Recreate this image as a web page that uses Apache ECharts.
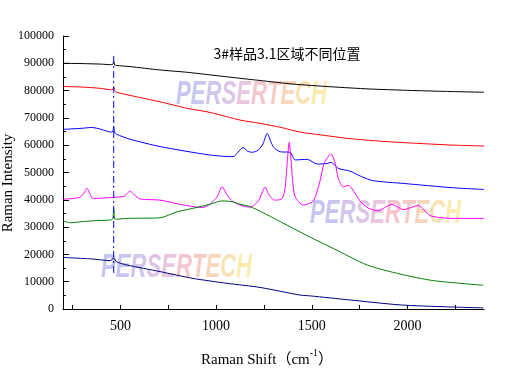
<!DOCTYPE html>
<html>
<head>
<meta charset="utf-8">
<script src="https://cdn.jsdelivr.net/npm/echarts@6/dist/echarts.min.js"></script>
<style>html,body{margin:0;padding:0;background:#fff;}#c{width:530px;height:384px;}</style>
</head>
<body>
<div id="c"></div>
<script>
const titleText = '3#样品3.1区域不同位置';
const xTickValues = [250, 500, 750, 1000, 1250, 1500, 1750, 2000, 2250];
const xLabelValues = [500, 1000, 1500, 2000];
const markerX = 465;
const markerRange = [13200, 93800];

const blackData = [[200,90000],[300,89900],[400,89700],[450,89500],[460,89600],[465,90800],[470,89400],[480,89200],[550,88800],[700,87600],[850,86700],[1000,85500],[1100,84700],[1230,83700],[1400,82400],[1600,81400],[1800,80600],[2000,80100],[2200,79700],[2400,79400]];
const redData = [[200,81500],[300,81300],[400,80800],[450,80300],[460,80400],[465,81300],[470,80200],[480,79400],[600,77500],[707,75900],[850,73500],[969,72000],[1126,69200],[1230,68000],[1340,66500],[1439,64800],[1544,63800],[1700,62400],[1894,61300],[2100,60500],[2250,60000],[2400,59700]];
const blueData = [[200,65800],[300,66200],[350,66500],[400,65800],[450,64800],[460,65000],[465,66800],[470,64800],[480,64000],[550,62200],[707,59500],[969,56400],[1089,55800],[1115,57500],[1141,59100],[1165,57800],[1189,57400],[1220,58200],[1245,60500],[1267,64300],[1285,61500],[1300,59300],[1335,57600],[1387,57400],[1413,54600],[1476,54800],[1528,53100],[1580,53300],[1600,53700],[1640,51500],[1700,50500],[1760,48500],[1821,47000],[1978,46000],[2240,44400],[2400,43800]];
const magentaData = [[200,40200],[253,40500],[290,41000],[310,42500],[326,44200],[342,42000],[357,40500],[400,40600],[462,40900],[520,41300],[535,42300],[551,43200],[570,42000],[603,40300],[707,39900],[800,38500],[880,37500],[932,37200],[970,38500],[1005,41100],[1031,44800],[1060,41500],[1089,39300],[1141,37700],[1178,37300],[1220,39500],[1240,42500],[1256,44600],[1275,42000],[1300,40000],[1319,39900],[1345,40500],[1360,44000],[1372,54000],[1382,61000],[1390,56000],[1400,47000],[1413,41100],[1455,38100],[1507,39500],[1540,46000],[1565,53400],[1601,56800],[1622,53500],[1638,48000],[1664,44700],[1690,45300],[1711,44000],[1753,39500],[1795,37000],[1842,36000],[1920,38300],[1978,36400],[2056,37900],[2119,34200],[2239,33200],[2400,33200]];
const greenData = [[200,32300],[238,31600],[300,32000],[357,32300],[446,32600],[460,33000],[465,36900],[470,33000],[483,32900],[535,33200],[707,33400],[796,35600],[880,36900],[969,38400],[1031,39600],[1084,39300],[1126,38400],[1178,37500],[1230,35800],[1300,33300],[1371,30700],[1439,28200],[1492,26300],[1612,22200],[1790,16100],[1962,12800],[2135,10400],[2396,8700]];
const navyData = [[200,18900],[357,18300],[446,17700],[465,18600],[480,17300],[535,16100],[707,13700],[880,11200],[1058,9400],[1230,7900],[1439,5100],[1492,4800],[1700,3300],[1962,1500],[2200,800],[2396,400]];

const seriesDefs = [
  {name:'black', data:blackData, color:'#000000'},
  {name:'red', data:redData, color:'#ff0000'},
  {name:'blue', data:blueData, color:'#0000ff'},
  {name:'magenta', data:magentaData, color:'#ff00ff'},
  {name:'green', data:greenData, color:'#008000'},
  {name:'navy', data:navyData, color:'#000080'}
];

const serif = '"Liberation Serif","Times New Roman",serif';
const chart = echarts.init(document.getElementById('c'), null, {renderer:'canvas'});

const wmLetters = 'PERSERTECH'.split('');
const wmColors = ['#c4c6f2','#c8c6f0','#d2c6ec','#dcc6e6','#e8c6de','#f4c6d0','#f8cac4','#f8d6bc','#f8e2b4','#f8ecb0'];
const wmRich = {};
wmLetters.forEach((ch, i) => {
  wmRich['l' + i] = {fontFamily:'"Liberation Sans",Arial,sans-serif', fontSize:34, fontWeight:'bold', fontStyle:'italic', fill:wmColors[i]};
});
const wmText = wmLetters.map((ch, i) => '{l' + i + '|' + ch + '}').join('');
function wm(x, y){
  return {type:'text', x:x, y:y, z:0, scaleX:0.65, silent:true,
    style:{text:wmText, rich:wmRich, textVerticalAlign:'top', textAlign:'left'}};
}
const plainNum = v => String(v);

const series = seriesDefs.map(s => ({
  name:s.name, type:'line', data:s.data, showSymbol:false, smooth:0.25, z:3,
  lineStyle:{color:s.color, width:1}, itemStyle:{color:s.color}, animation:false
}));
series.push({
  name:'marker', type:'line', showSymbol:false, z:4, animation:false,
  data:[[markerX, markerRange[0]],[markerX, markerRange[1]]],
  lineStyle:{color:'#0000ff', width:1, type:[7,3,2,3]}
});

chart.setOption({
  animation:false,
  grid:{left:63, right:46, top:36, bottom:75, containLabel:false},
  xAxis:{
    type:'value', min:200, max:2400,
    axisLine:{show:true, lineStyle:{color:'#000', width:1}},
    axisTick:{show:true, inside:true, length:4, customValues:xTickValues, lineStyle:{color:'#000'}},
    axisLabel:{customValues:xLabelValues, formatter:plainNum, fontFamily:serif, fontSize:14, color:'#000', margin:10},
    splitLine:{show:false}
  },
  yAxis:{
    type:'value', min:0, max:100000, interval:10000,
    axisLine:{show:true, lineStyle:{color:'#000', width:1}},
    axisTick:{show:true, inside:true, length:6, lineStyle:{color:'#000'}},
    minorTick:{show:true, splitNumber:2, length:3, lineStyle:{color:'#000'}},
    axisLabel:{formatter:plainNum, fontFamily:serif, fontSize:12, color:'#000', margin:9},
    splitLine:{show:false}
  },
  graphic:[
    wm(176, 78), wm(310, 197), wm(101, 251),
    {type:'text', x:287, y:54, z:10, style:{text:titleText, font:'14px "Noto Sans CJK SC",sans-serif', fill:'#000', textAlign:'center', textVerticalAlign:'middle'}},
    {type:'text', x:8, y:183, rotation:Math.PI/2, z:10, style:{text:'Raman Intensity', font:'15px '+serif, fill:'#000', textAlign:'center', textVerticalAlign:'middle'}},
    {type:'text', x:267, y:358, z:10, style:{
      text:'{b|Raman Shift（cm}{s|-1}{b|）}', textAlign:'center', textVerticalAlign:'middle', fill:'#000',
      rich:{b:{fontFamily:serif+',"Noto Sans CJK SC"', fontSize:15, fill:'#000', lineHeight:20, verticalAlign:'bottom'},
            s:{fontFamily:serif, fontSize:10, fill:'#000', lineHeight:20, verticalAlign:'top'}}}}
  ],
  series:series
});
</script>
</body>
</html>
